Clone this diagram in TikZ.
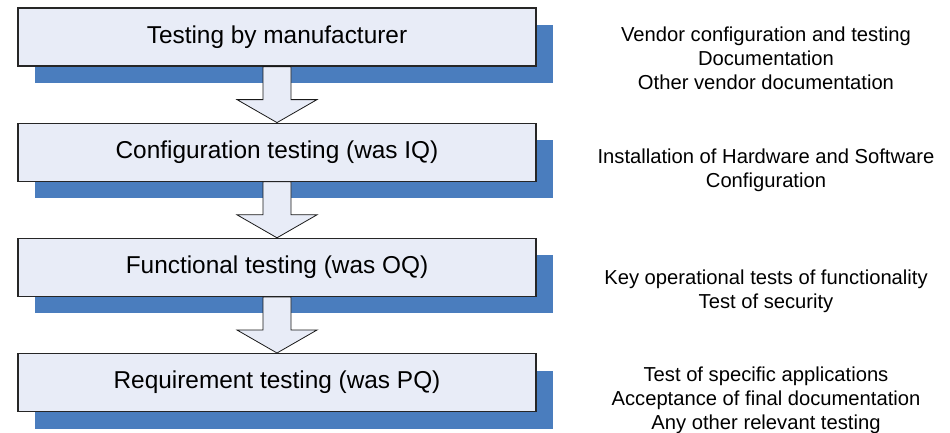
\documentclass[tikz,border=0pt]{standalone}
\usepackage{fontspec}
\setmainfont{Liberation Sans}
\usetikzlibrary{positioning,shadows}
\definecolor{stagefill}{RGB}{232,236,247}
\definecolor{stageshade}{RGB}{74,125,190}

\begin{document}
\begin{tikzpicture}[x=1pt,y=-1pt,node distance=56pt,
  stage/.style={draw=black!85,line width=1.2pt,fill=stagefill,
    minimum width=518pt,minimum height=58pt,inner sep=0pt,
    font=\fontsize{24.4}{28}\selectfont,
    drop shadow={shadow xshift=17pt,shadow yshift=-17pt,fill=stageshade,opacity=1}},
  note/.style={align=center,inner sep=0pt,font=\fontsize{20.2}{24}\selectfont},
  blockarrow/.style={draw=black!90,line width=0.8pt,fill=stagefill,line join=miter}]
\useasboundingbox (0,0) rectangle (950,432);

\node[stage] (s1) at (277,37) {Testing by manufacturer};
\node[stage,below=of s1] (s2) {Configuration testing (was IQ)};
\node[stage,below=of s2] (s3) {Functional testing (was OQ)};
\node[stage,below=of s3] (s4) {Requirement testing (was PQ)};

\foreach \a/\b in {s1/s2,s2/s3,s3/s4}
  \draw[blockarrow] ([xshift=-14pt]\a.south) -- ([xshift=14pt]\a.south)
    -- ([shift={(14,-23)}]\b.north) -- ++(26,0) -- (\b.north)
    -- ++(-40,-23) -- ++(26,0) -- cycle;

\node[note] (n1) at (766,58) {Vendor configuration and testing\\Documentation\\Other vendor documentation};
\node[note] (n2) at (766,170) {Installation of Hardware and Software\\Configuration};
\node[note] (n3) at (766,291) {Key operational tests of functionality\\Test of security};
\node[note] (n4) at (766,400) {Test of specific applications\\Acceptance of final documentation\\Any other relevant testing};
\end{tikzpicture}
\end{document}
